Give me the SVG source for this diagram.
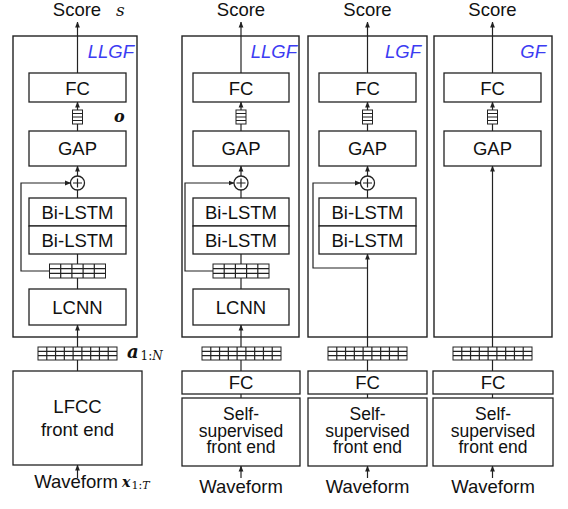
<svg xmlns="http://www.w3.org/2000/svg" width="568" height="509" viewBox="0 0 568 509">
<style>
.bx{fill:#fff;stroke:#222;stroke-width:1.3}
.ob{fill:none;stroke:#222;stroke-width:1.4}
.ln{fill:none;stroke:#222;stroke-width:1.2}
.gr{fill:#fff;stroke:#222;stroke-width:1}
.t{font-family:"Liberation Sans",Arial,sans-serif;font-size:18.5px;fill:#111;text-anchor:middle}
.s{font-family:"Liberation Sans",Arial,sans-serif;font-size:17.5px;fill:#111;text-anchor:middle}
.ti{font-family:"Liberation Sans",Arial,sans-serif;font-size:18.5px;font-style:italic;fill:#3c3cf2;text-anchor:end}
.m{font-family:"DejaVu Serif","Liberation Serif",serif;font-style:italic;fill:#111}
</style>
<defs>
<marker id="ah" markerUnits="userSpaceOnUse" markerWidth="6" markerHeight="6" viewBox="0 0 6 6" refX="5.5" refY="3" orient="auto">
<path d="M0,0.6 L6,3 L0,5.4 Z" fill="#222"/>
</marker>
<g id="vec"><rect x="-5" y="0" width="10" height="14" class="gr"/><path d="M-5,3.5H5M-5,7H5M-5,10.5H5" class="ln" stroke-width="1"/></g>
<g id="g5"><rect x="0" y="0" width="56" height="14" class="gr"/><path d="M11.2,0V14M22.4,0V14M33.6,0V14M44.8,0V14M0,4.67H56M0,9.33H56" class="ln" stroke-width="1"/></g>
<g id="g9"><rect x="0" y="0" width="79" height="13" class="gr"/><path d="M8.78,0V13M17.56,0V13M26.33,0V13M35.11,0V13M43.89,0V13M52.67,0V13M61.44,0V13M70.22,0V13M0,4.33H79M0,8.67H79" class="ln" stroke-width="1"/></g>
</defs>

<!-- outer frames -->
<g id="frame1"><rect x="13" y="36" width="124" height="301" class="ob"/><text x="134" y="58" class="ti">LLGF</text></g>
<g id="frame2"><rect x="182" y="36" width="117" height="301" class="ob"/><text x="297" y="58" class="ti">LLGF</text></g>
<g id="frame3"><rect x="308" y="36" width="119" height="301" class="ob"/><text x="421" y="58" class="ti">LGF</text></g>
<g id="frame4"><rect x="434" y="36" width="118" height="301" class="ob"/><text x="546" y="58" class="ti">GF</text></g>

<!-- connectors -->
<g id="connectors">
<!-- col1 -->
<path d="M77.5,73V22" class="ln" marker-end="url(#ah)"/>
<path d="M77.5,110V102" class="ln" marker-end="url(#ah)"/>
<path d="M77.5,131V124" class="ln"/>
<path d="M77.5,176V166" class="ln" marker-end="url(#ah)"/>
<path d="M77.5,198V190" class="ln"/>
<path d="M77.5,264V254" class="ln"/>
<path d="M49.5,271H21V183H70.5" class="ln" marker-end="url(#ah)"/>
<path d="M77.5,289V278" class="ln"/>
<path d="M77.5,347V325" class="ln" marker-end="url(#ah)"/>
<path d="M77.5,371V360" class="ln"/>
<path d="M77.5,478V465" class="ln" marker-end="url(#ah)"/>
<!-- col2 -->
<path d="M241,73V22" class="ln" marker-end="url(#ah)"/>
<path d="M241,110V102" class="ln" marker-end="url(#ah)"/>
<path d="M241,131V124" class="ln"/>
<path d="M241,176V166" class="ln" marker-end="url(#ah)"/>
<path d="M241,198V190" class="ln"/>
<path d="M241,264V254" class="ln"/>
<path d="M213,271H185V183H234" class="ln" marker-end="url(#ah)"/>
<path d="M241,289V278" class="ln"/>
<path d="M241,347V325" class="ln" marker-end="url(#ah)"/>
<path d="M241,371V360" class="ln"/>
<path d="M241,398V394" class="ln"/>
<path d="M241,478V466" class="ln" marker-end="url(#ah)"/>
<!-- col3 -->
<path d="M367.5,73V22" class="ln" marker-end="url(#ah)"/>
<path d="M367.5,110V102" class="ln" marker-end="url(#ah)"/>
<path d="M367.5,131V124" class="ln"/>
<path d="M367.5,176V166" class="ln" marker-end="url(#ah)"/>
<path d="M367.5,198V190" class="ln"/>
<path d="M367.5,347V254" class="ln" marker-end="url(#ah)"/>
<path d="M367.5,268H313V183H360.5" class="ln" marker-end="url(#ah)"/>
<path d="M367.5,371V360" class="ln"/>
<path d="M367.5,398V394" class="ln"/>
<path d="M367.5,478V466" class="ln" marker-end="url(#ah)"/>
<!-- col4 -->
<path d="M492.5,73V22" class="ln" marker-end="url(#ah)"/>
<path d="M492.5,110V102" class="ln" marker-end="url(#ah)"/>
<path d="M492.5,131V124" class="ln"/>
<path d="M492.5,347V166" class="ln" marker-end="url(#ah)"/>
<path d="M492.5,371V360" class="ln"/>
<path d="M492.5,398V394" class="ln"/>
<path d="M492.5,478V466" class="ln" marker-end="url(#ah)"/>
</g>

<!-- column 1 -->
<g id="score1"><text x="77" y="15.5" class="t">Score</text><text x="116" y="15.5" class="m" font-size="17">s</text></g>
<g id="fc1"><rect x="29" y="73" width="97" height="29" class="bx"/><text x="77.5" y="94.5" class="t">FC</text></g>
<g id="o1"><use href="#vec" x="77.5" y="110"/><text x="114" y="122" class="m" font-size="16" font-weight="bold">o</text></g>
<g id="gap1"><rect x="29" y="131" width="97" height="35" class="bx"/><text x="77.5" y="155" class="t">GAP</text></g>
<g id="add1"><circle cx="77.5" cy="183" r="7" class="bx"/><path d="M77.5,178.5V187.5M73,183H82" class="ln"/></g>
<g id="lstm1a"><rect x="29" y="198" width="97" height="28" class="bx"/><text x="77.5" y="218.5" class="t">Bi-LSTM</text></g>
<g id="lstm1b"><rect x="29" y="226" width="97" height="28" class="bx"/><text x="77.5" y="246.5" class="t">Bi-LSTM</text></g>
<g id="h1"><use href="#g5" x="49.5" y="264"/></g>
<g id="lcnn1"><rect x="29" y="289" width="97" height="36" class="bx"/><text x="77.5" y="313.5" class="t">LCNN</text></g>
<g id="a1"><use href="#g9" x="38" y="347"/><text x="127" y="358" class="m" font-size="18" font-weight="bold">a</text><text x="140.5" y="360" class="m" font-size="12"><tspan font-style="normal">1:</tspan>N</text></g>
<g id="lfcc"><rect x="13" y="371" width="129" height="94" class="bx"/><text x="77.5" y="413" class="t">LFCC</text><text x="77.5" y="436" class="t">front end</text></g>
<g id="wave1"><text x="76" y="488" class="t">Waveform</text><text x="122" y="487" class="m" font-size="14" font-weight="bold">x</text><text x="131.5" y="489" class="m" font-size="11"><tspan font-style="normal">1:</tspan>T</text></g>

<!-- column 2 -->
<g id="score2"><text x="241" y="15.5" class="t">Score</text></g>
<g id="fc2"><rect x="193" y="73" width="96" height="29" class="bx"/><text x="241" y="94.5" class="t">FC</text></g>
<g id="o2"><use href="#vec" x="241" y="110"/></g>
<g id="gap2"><rect x="193" y="131" width="96" height="35" class="bx"/><text x="241" y="155" class="t">GAP</text></g>
<g id="add2"><circle cx="241" cy="183" r="7" class="bx"/><path d="M241,178.5V187.5M236.5,183H245.5" class="ln"/></g>
<g id="lstm2a"><rect x="193" y="198" width="96" height="28" class="bx"/><text x="241" y="218.5" class="t">Bi-LSTM</text></g>
<g id="lstm2b"><rect x="193" y="226" width="96" height="28" class="bx"/><text x="241" y="246.5" class="t">Bi-LSTM</text></g>
<g id="h2"><use href="#g5" x="213" y="264"/></g>
<g id="lcnn2"><rect x="193" y="289" width="96" height="36" class="bx"/><text x="241" y="313.5" class="t">LCNN</text></g>
<g id="a2"><use href="#g9" x="202" y="347"/></g>
<g id="fcb2"><rect x="182" y="371" width="118" height="23" class="bx"/><text x="241" y="389" class="t">FC</text></g>
<g id="ssl2"><rect x="182" y="398" width="118" height="68" class="bx"/><text x="241" y="420" class="s">Self-</text><text x="241" y="436.5" class="s">supervised</text><text x="241" y="453" class="s">front end</text></g>
<g id="wave2"><text x="241" y="493" class="t">Waveform</text></g>

<!-- column 3 -->
<g id="score3"><text x="367.5" y="15.5" class="t">Score</text></g>
<g id="fc3"><rect x="319" y="73" width="97" height="29" class="bx"/><text x="367.5" y="94.5" class="t">FC</text></g>
<g id="o3"><use href="#vec" x="367.5" y="110"/></g>
<g id="gap3"><rect x="319" y="131" width="97" height="35" class="bx"/><text x="367.5" y="155" class="t">GAP</text></g>
<g id="add3"><circle cx="367.5" cy="183" r="7" class="bx"/><path d="M367.5,178.5V187.5M363,183H372" class="ln"/></g>
<g id="lstm3a"><rect x="319" y="198" width="97" height="28" class="bx"/><text x="367.5" y="218.5" class="t">Bi-LSTM</text></g>
<g id="lstm3b"><rect x="319" y="226" width="97" height="28" class="bx"/><text x="367.5" y="246.5" class="t">Bi-LSTM</text></g>
<g id="a3"><use href="#g9" x="328" y="347"/></g>
<g id="fcb3"><rect x="308" y="371" width="119" height="23" class="bx"/><text x="367.5" y="389" class="t">FC</text></g>
<g id="ssl3"><rect x="308" y="398" width="119" height="68" class="bx"/><text x="367.5" y="420" class="s">Self-</text><text x="367.5" y="436.5" class="s">supervised</text><text x="367.5" y="453" class="s">front end</text></g>
<g id="wave3"><text x="367.5" y="493" class="t">Waveform</text></g>

<!-- column 4 -->
<g id="score4"><text x="492.5" y="15.5" class="t">Score</text></g>
<g id="fc4"><rect x="444" y="73" width="97" height="29" class="bx"/><text x="492.5" y="94.5" class="t">FC</text></g>
<g id="o4"><use href="#vec" x="492.5" y="110"/></g>
<g id="gap4"><rect x="444" y="131" width="97" height="35" class="bx"/><text x="492.5" y="155" class="t">GAP</text></g>
<g id="a4"><use href="#g9" x="453" y="347"/></g>
<g id="fcb4"><rect x="433" y="371" width="120" height="23" class="bx"/><text x="493" y="389" class="t">FC</text></g>
<g id="ssl4"><rect x="433" y="398" width="120" height="68" class="bx"/><text x="493" y="420" class="s">Self-</text><text x="493" y="436.5" class="s">supervised</text><text x="493" y="453" class="s">front end</text></g>
<g id="wave4"><text x="493" y="493" class="t">Waveform</text></g>
</svg>
